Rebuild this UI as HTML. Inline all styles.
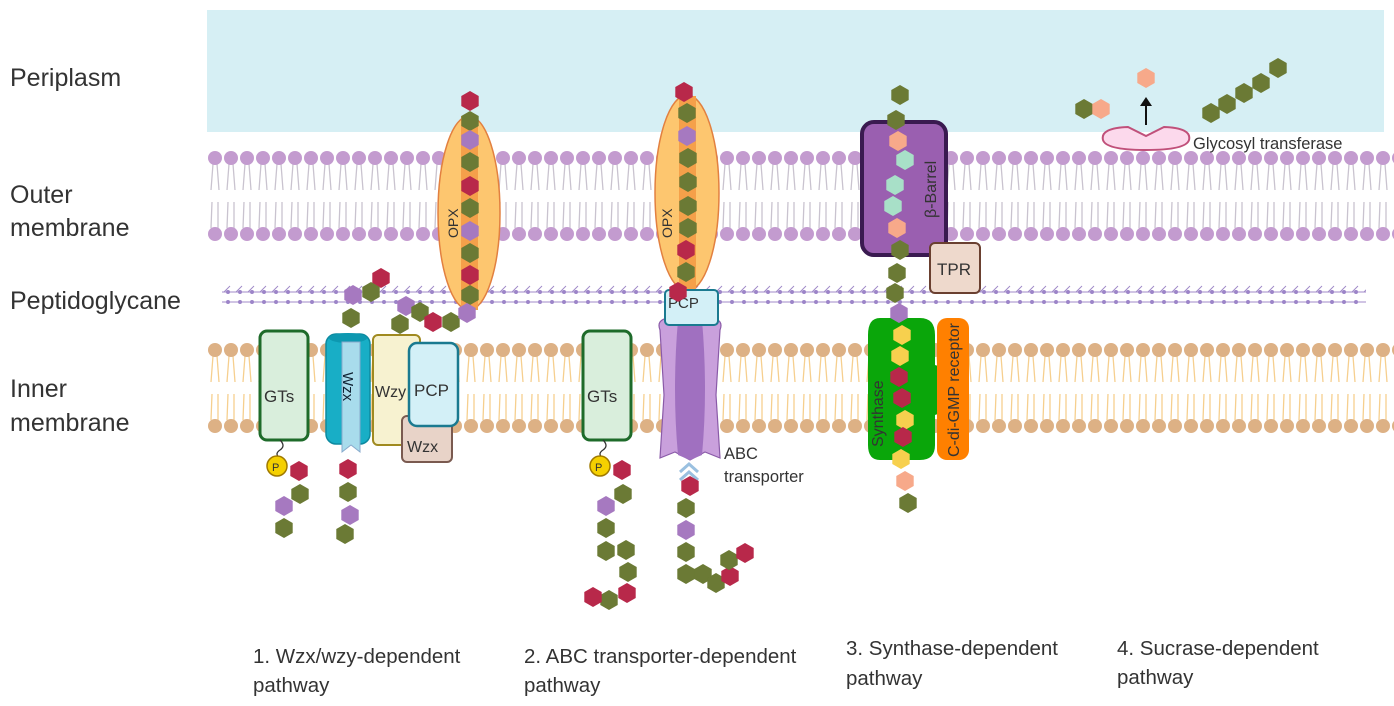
<!DOCTYPE html>
<html><head><meta charset="utf-8"><style>
html,body{margin:0;padding:0;background:#fff}
svg{display:block}
text{font-family:"Liberation Sans",sans-serif}
</style></head><body>
<svg width="1394" height="706" viewBox="0 0 1394 706" xmlns="http://www.w3.org/2000/svg">
<defs>
<polygon id="h" points="0,-10 8.7,-5 8.7,5 0,10 -8.7,5 -8.7,-5"/>
<pattern id="om" patternUnits="userSpaceOnUse" x="207" y="150" width="16" height="92">
 <g stroke="#c9c3cf" stroke-width="1.3" fill="none">
  <path d="M6,14 L4,40 M10,14 L12,40 M5,52 L4,78 M11,52 L11,78"/>
 </g>
 <circle cx="8" cy="8" r="7" fill="#c39bcf"/>
 <circle cx="8" cy="84" r="7" fill="#c39bcf"/>
</pattern>
<pattern id="im" patternUnits="userSpaceOnUse" x="207" y="342" width="16" height="92">
 <g stroke="#f6cf8e" stroke-width="1.3" fill="none">
  <path d="M6,14 L4,40 M10,14 L12,40 M5,52 L4,78 M11,52 L11,78"/>
 </g>
 <circle cx="8" cy="8" r="7" fill="#ddb185"/>
 <circle cx="8" cy="84" r="7" fill="#ddb185"/>
</pattern>
<pattern id="pg" patternUnits="userSpaceOnUse" x="222" y="284" width="12" height="24">
 <path d="M2,8 L8,2" stroke="#a08ac8" stroke-width="1" fill="none"/>
 <line x1="0" y1="8" x2="12" y2="8" stroke="#a08ac8" stroke-width="1"/>
 <circle cx="6" cy="8" r="2" fill="#9c84c8"/>
 <line x1="0" y1="18" x2="12" y2="18" stroke="#a08ac8" stroke-width="1"/>
 <circle cx="6" cy="18" r="2" fill="#9c84c8"/>
</pattern>
</defs>

<rect x="207" y="10" width="1177" height="122" fill="#d6eff4"/>
<rect x="207" y="150" width="1187" height="92" fill="url(#om)"/>
<rect x="222" y="284" width="1144" height="24" fill="url(#pg)"/>
<rect x="207" y="342" width="1187" height="92" fill="url(#im)"/>

<!-- left labels -->
<g font-size="25" fill="#333">
<text x="10" y="86">Periplasm</text>
<text x="10" y="203">Outer</text>
<text x="10" y="236">membrane</text>
<text x="10" y="309">Peptidoglycane</text>
<text x="10" y="397">Inner</text>
<text x="10" y="431">membrane</text>
</g>

<!-- Pathway 1 -->
<rect x="260" y="331" width="48" height="109" rx="7" fill="#d9eedc" stroke="#1e6b2a" stroke-width="3"/>
<text x="264" y="402" font-size="17" fill="#333">GTs</text>
<path d="M280,440 q6,6 0,10 q-6,4 0,8" stroke="#333" fill="none" stroke-width="1.3"/>
<circle cx="277" cy="466" r="10" fill="#f5d000" stroke="#a07a00" stroke-width="1.5"/>
<text x="272" y="471" font-size="11" fill="#333">P</text>
<use href="#h" x="299" y="471" fill="#b8284a"/>
<use href="#h" x="300" y="494" fill="#6b7a35"/>
<use href="#h" x="284" y="506" fill="#a679c0"/>
<use href="#h" x="284" y="528" fill="#6b7a35"/>

<rect x="326" y="334" width="44" height="110" rx="10" fill="#18aec6" stroke="#0d8aa0" stroke-width="1.5"/>
<ellipse cx="348" cy="338" rx="19" ry="5" fill="#0d98b0"/>
<path d="M342,342 L360,342 L360,452 L351,445 L342,452 Z" fill="#a8dcec" stroke="#8ac" stroke-width="1"/>
<text transform="translate(343,372) rotate(90)" font-size="15" fill="#123">Wzx</text>
<use href="#h" x="348" y="469" fill="#b8284a"/>
<use href="#h" x="348" y="492" fill="#6b7a35"/>
<use href="#h" x="350" y="515" fill="#a679c0"/>
<use href="#h" x="345" y="534" fill="#6b7a35"/>

<rect x="373" y="335" width="47" height="110" rx="5" fill="#f7f2d0" stroke="#a08a20" stroke-width="2"/>
<text x="375" y="397" font-size="16" fill="#333">Wzy</text>
<rect x="402" y="416" width="50" height="46" rx="5" fill="#e8d3c8" stroke="#7a5a50" stroke-width="2"/>
<text x="407" y="452" font-size="16" fill="#333">Wzx</text>
<rect x="409" y="343" width="49" height="83" rx="8" fill="#d3f0f7" stroke="#1a7a90" stroke-width="2.5"/>
<text x="414" y="396" font-size="17" fill="#333">PCP</text>

<ellipse cx="469" cy="213" rx="31" ry="97" fill="#fdc66f" stroke="#e28040" stroke-width="1.5"/>
<rect x="461" y="116" width="17" height="194" fill="#f5a04a"/>
<text transform="translate(458,238) rotate(-90)" font-size="14" fill="#333">OPX</text>
<use href="#h" x="470" y="101" fill="#b8284a"/>
<use href="#h" x="470" y="121" fill="#6b7a35"/>
<use href="#h" x="470" y="140" fill="#a679c0"/>
<use href="#h" x="470" y="162" fill="#6b7a35"/>
<use href="#h" x="470" y="186" fill="#b8284a"/>
<use href="#h" x="470" y="208" fill="#6b7a35"/>
<use href="#h" x="470" y="231" fill="#a679c0"/>
<use href="#h" x="470" y="253" fill="#6b7a35"/>
<use href="#h" x="470" y="275" fill="#b8284a"/>
<use href="#h" x="470" y="295" fill="#6b7a35"/>
<use href="#h" x="381" y="278" fill="#b8284a"/>
<use href="#h" x="371" y="292" fill="#6b7a35"/>
<use href="#h" x="353" y="295" fill="#a679c0"/>
<use href="#h" x="351" y="318" fill="#6b7a35"/>
<use href="#h" x="400" y="324" fill="#6b7a35"/>
<use href="#h" x="406" y="306" fill="#a679c0"/>
<use href="#h" x="420" y="312" fill="#6b7a35"/>
<use href="#h" x="433" y="322" fill="#b8284a"/>
<use href="#h" x="451" y="322" fill="#6b7a35"/>
<use href="#h" x="467" y="313" fill="#a679c0"/>

<!-- Pathway 2 -->
<rect x="583" y="331" width="48" height="109" rx="7" fill="#d9eedc" stroke="#1e6b2a" stroke-width="3"/>
<text x="587" y="402" font-size="17" fill="#333">GTs</text>
<path d="M603,440 q6,6 0,10 q-6,4 0,8" stroke="#333" fill="none" stroke-width="1.3"/>
<circle cx="600" cy="466" r="10" fill="#f5d000" stroke="#a07a00" stroke-width="1.5"/>
<text x="595" y="471" font-size="11" fill="#333">P</text>
<use href="#h" x="622" y="470" fill="#b8284a"/>
<use href="#h" x="623" y="494" fill="#6b7a35"/>
<use href="#h" x="606" y="506" fill="#a679c0"/>
<use href="#h" x="606" y="528" fill="#6b7a35"/>
<use href="#h" x="626" y="550" fill="#6b7a35"/>
<use href="#h" x="606" y="551" fill="#6b7a35"/>
<use href="#h" x="628" y="572" fill="#6b7a35"/>
<use href="#h" x="627" y="593" fill="#b8284a"/>
<use href="#h" x="609" y="600" fill="#6b7a35"/>
<use href="#h" x="593" y="597" fill="#b8284a"/>

<ellipse cx="687" cy="193" rx="32" ry="98" fill="#fdc66f" stroke="#e28040" stroke-width="1.5"/>
<rect x="679" y="96" width="17" height="194" fill="#f5a04a"/>
<text transform="translate(672,238) rotate(-90)" font-size="14" fill="#333">OPX</text>
<use href="#h" x="684" y="92" fill="#b8284a"/>
<use href="#h" x="687" y="113" fill="#6b7a35"/>
<use href="#h" x="687" y="136" fill="#a679c0"/>
<use href="#h" x="688" y="158" fill="#6b7a35"/>
<use href="#h" x="688" y="182" fill="#6b7a35"/>
<use href="#h" x="688" y="206" fill="#6b7a35"/>
<use href="#h" x="688" y="228" fill="#6b7a35"/>
<use href="#h" x="686" y="250" fill="#b8284a"/>
<use href="#h" x="686" y="272" fill="#6b7a35"/>

<path d="M660,330 Q656,320 668,318 L712,318 Q724,320 720,330 L716,395 L720,458 L705,452 L690,460 L675,452 L660,458 L664,395 Z" fill="#c9a0dc" stroke="#8a5aa8" stroke-width="1.2"/>
<path d="M678,320 L702,320 Q708,390 702,455 L690,460 L678,455 Q672,390 678,320 Z" fill="#a070c0"/>
<rect x="665" y="290" width="53" height="35" rx="4" fill="#d3f0f7" stroke="#1a7a90" stroke-width="2"/>
<text x="668" y="308" font-size="15" fill="#333">PCP</text>
<use href="#h" x="678" y="292" fill="#b8284a"/>
<path d="M680,472 L689,464 L698,472 M680,480 L689,472 L698,480" stroke="#9ac0e0" stroke-width="3" fill="none"/>
<text x="724" y="459" font-size="16.5" fill="#333">ABC</text>
<text x="724" y="482" font-size="16.5" fill="#333">transporter</text>
<use href="#h" x="690" y="486" fill="#b8284a"/>
<use href="#h" x="686" y="508" fill="#6b7a35"/>
<use href="#h" x="686" y="530" fill="#a679c0"/>
<use href="#h" x="686" y="552" fill="#6b7a35"/>
<use href="#h" x="686" y="574" fill="#6b7a35"/>
<use href="#h" x="703" y="574" fill="#6b7a35"/>
<use href="#h" x="716" y="583" fill="#6b7a35"/>
<use href="#h" x="730" y="576" fill="#b8284a"/>
<use href="#h" x="729" y="560" fill="#6b7a35"/>
<use href="#h" x="745" y="553" fill="#b8284a"/>

<!-- Pathway 3 -->
<rect x="862" y="122" width="84" height="133" rx="12" fill="#9a5fb0" stroke="#3a1a50" stroke-width="4"/>
<text transform="translate(936,218) rotate(-90)" font-size="16" fill="#333">β-Barrel</text>
<rect x="930" y="243" width="50" height="50" rx="5" fill="#eed9cc" stroke="#6a4030" stroke-width="2"/>
<text x="937" y="275" font-size="17" fill="#333">TPR</text>
<path d="M880,318 L920,318 Q935,318 935,335 L935,365 Q948,368 946,390 Q948,412 935,415 L935,445 Q935,460 920,460 L880,460 Q868,460 868,445 L868,335 Q868,318 880,318 Z" fill="#0aa60a"/>
<rect x="937" y="318" width="32" height="142" rx="10" fill="#ff8000"/>
<text transform="translate(883,447) rotate(-90)" font-size="16" fill="#333">Synthase</text>
<text transform="translate(959,457) rotate(-90)" font-size="16" fill="#333">C-di-GMP receptor</text>
<use href="#h" x="900" y="95" fill="#6b7a35"/>
<use href="#h" x="896" y="120" fill="#6b7a35"/>
<use href="#h" x="898" y="141" fill="#f7a98a"/>
<use href="#h" x="905" y="160" fill="#a8e0c8"/>
<use href="#h" x="895" y="185" fill="#a8e0c8"/>
<use href="#h" x="893" y="206" fill="#a8e0c8"/>
<use href="#h" x="897" y="228" fill="#f7a98a"/>
<use href="#h" x="900" y="250" fill="#6b7a35"/>
<use href="#h" x="897" y="273" fill="#6b7a35"/>
<use href="#h" x="895" y="293" fill="#6b7a35"/>
<use href="#h" x="899" y="313" fill="#a679c0"/>
<use href="#h" x="902" y="335" fill="#f7d04e"/>
<use href="#h" x="900" y="356" fill="#f7d04e"/>
<use href="#h" x="899" y="377" fill="#b8284a"/>
<use href="#h" x="902" y="398" fill="#b8284a"/>
<use href="#h" x="905" y="420" fill="#f7d04e"/>
<use href="#h" x="903" y="437" fill="#b8284a"/>
<use href="#h" x="901" y="459" fill="#f7d04e"/>
<use href="#h" x="905" y="481" fill="#f7a98a"/>
<use href="#h" x="908" y="503" fill="#6b7a35"/>

<!-- Pathway 4 -->
<path d="M1103,140 Q1100,128 1128,127 L1146,136 L1164,127 Q1192,128 1189,140 Q1186,150 1146,150 Q1106,150 1103,140 Z" fill="#fcd9ec" stroke="#c0507a" stroke-width="2"/>
<text x="1193" y="149" font-size="16.5" fill="#333">Glycosyl transferase</text>
<line x1="1146" y1="125" x2="1146" y2="104" stroke="#111" stroke-width="2"/>
<path d="M1140,106 L1146,97 L1152,106 Z" fill="#111"/>
<use href="#h" x="1146" y="78" fill="#f7a98a"/>
<use href="#h" x="1084" y="109" fill="#6b7a35"/>
<use href="#h" x="1101" y="109" fill="#f7a98a"/>
<use href="#h" x="1211" y="113" fill="#6b7a35"/>
<use href="#h" x="1227" y="104" fill="#6b7a35"/>
<use href="#h" x="1244" y="93" fill="#6b7a35"/>
<use href="#h" x="1261" y="83" fill="#6b7a35"/>
<use href="#h" x="1278" y="68" fill="#6b7a35"/>

<!-- bottom labels -->
<g font-size="20.5" fill="#333">
<text x="253" y="663">1. Wzx/wzy-dependent</text>
<text x="253" y="692">pathway</text>
<text x="524" y="663">2. ABC transporter-dependent</text>
<text x="524" y="692">pathway</text>
<text x="846" y="655">3. Synthase-dependent</text>
<text x="846" y="685">pathway</text>
<text x="1117" y="655">4. Sucrase-dependent</text>
<text x="1117" y="684">pathway</text>
</g>
</svg>
</body></html>
